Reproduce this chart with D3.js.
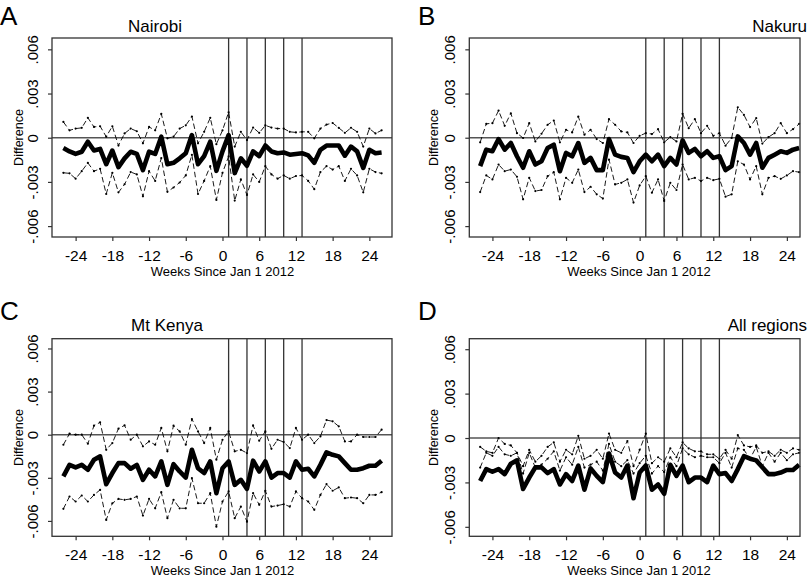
<!DOCTYPE html>
<html><head><meta charset="utf-8">
<script src="https://cdn.jsdelivr.net/npm/d3@7"></script>
<style>
body{margin:0;background:#fff}
svg{display:block}
text{font-family:"Liberation Sans",Arial,Helvetica,sans-serif;fill:#000}
</style>
</head><body>
<svg id="chart" width="810" height="578"></svg>
<script>
// ---- DATA (values in thousandths: -1.0 means -.001) ----
const weeks = [-26,-25,-24,-23,-22,-21,-20,-19,-18,-17,-16,-15,-14,-13,-12,-11,-10,-9,-8,-7,-6,-5,-4,-3,-2,-1,0,1,2,3,4,5,6,7,8,9,10,11,12,13,14,15,16,17,18,19,20,21,22,23,24,25,26];
const xTicks = [-24,-18,-12,-6,0,6,12,18,24];
const yTicks = [6,3,0,-3,-6];
const yTickLabels = [".006",".003","0","-.003","-.006"];
const eventWeeks = [1,4,7,10,13];
const panelLetters = ["A","B","C","D"];
const regionNames = ["Nairobi","Nakuru","Mt Kenya","All regions"];
const xTitle = "Weeks Since Jan 1 2012";
const yTitle = "Difference";

const nairobiEst = [-0.7,-0.93,-1.1,-0.95,-0.27,-0.87,-0.76,-1.8,-0.87,-2.0,-1.4,-0.95,-1.1,-2.2,-0.95,-1.1,0.07,-1.8,-1.7,-1.4,-1.05,0.18,-1.8,-1.25,-0.27,-2.25,-0.93,0.18,-2.4,-1.4,-1.9,-0.93,-1.25,-0.53,-0.93,-1.05,-1.0,-1.15,-1.1,-1.05,-1.2,-1.7,-0.82,-0.53,-0.53,-0.53,-1.22,-0.6,-0.93,-2.05,-0.82,-1.05,-1.0];
const nairobiUpper = [1.07,0.5,0.62,0.67,1.35,0.73,0.78,0.07,0.78,-0.53,0.29,0.62,0.44,-0.38,0.73,0.5,1.62,-0.04,0.07,0.62,0.84,1.44,-0.38,0.4,1.35,-0.44,0.5,1.73,-0.6,0.4,-0.16,0.69,0.33,0.84,0.69,0.62,0.62,0.4,0.36,0.4,0.4,-0.04,0.62,0.89,1.0,0.67,0.33,0.67,0.4,-0.6,0.62,0.29,0.5];
const nairobiLower = [-2.38,-2.42,-2.78,-2.27,-1.71,-2.27,-2.11,-3.82,-2.38,-3.71,-3.16,-2.33,-2.49,-3.98,-2.27,-2.93,-1.38,-3.67,-3.38,-3.04,-2.56,-1.16,-3.82,-2.93,-1.93,-4.22,-2.38,-1.27,-4.27,-2.82,-3.89,-2.49,-3.0,-1.93,-2.49,-2.78,-2.56,-2.78,-2.6,-2.56,-2.93,-3.49,-2.33,-1.93,-2.16,-1.93,-2.93,-2.11,-2.56,-3.71,-2.11,-2.33,-2.42];

const nakuruEst = [-1.93,-0.81,-0.92,-0.09,-0.81,-0.36,-1.26,-2.04,-0.92,-1.82,-1.6,-0.7,-0.47,-2.27,-1.03,-1.26,-0.36,-1.71,-1.37,-2.2,-2.2,-0.09,-1.15,-1.3,-1.37,-2.34,-1.6,-1.15,-1.6,-1.15,-1.93,-1.37,-1.82,-0.18,-1.03,-0.76,-1.26,-0.92,-1.37,-1.26,-2.2,-1.93,0.09,-0.36,-1.15,-0.36,-2.04,-1.37,-1.15,-0.92,-1.03,-0.81,-0.7];
const nakuruUpper = [-0.31,0.94,0.99,1.84,0.81,1.66,0.31,-0.02,0.99,-0.25,0.27,0.88,1.17,-0.31,0.54,0.36,1.44,0.2,0.54,-0.09,-0.36,1.26,0.88,0.43,0.36,-0.36,0.13,0.31,0.25,0.58,-0.31,0.04,-0.25,1.62,0.65,1.26,0.31,0.81,0.13,0.31,-0.54,-0.02,2.07,1.55,0.72,1.33,-0.4,0.04,0.31,0.99,0.31,0.58,0.94];
const nakuruLower = [-3.69,-2.56,-2.83,-1.82,-2.27,-2.16,-2.65,-4.18,-2.72,-3.62,-3.55,-2.61,-2.34,-4.18,-2.72,-3.06,-2.16,-3.69,-3.33,-3.84,-4.13,-1.48,-3.17,-3.06,-2.83,-4.4,-3.24,-2.61,-3.73,-2.83,-4.29,-3.06,-3.55,-1.82,-2.83,-2.72,-2.94,-2.72,-2.88,-2.79,-4.0,-3.84,-1.6,-1.82,-2.83,-1.93,-3.84,-2.72,-2.61,-2.79,-2.56,-2.27,-2.34];

const mtKenyaEst = [-2.9,-2.1,-2.28,-2.1,-2.44,-1.74,-1.51,-3.44,-2.67,-1.98,-1.98,-2.37,-2.1,-3.14,-2.44,-2.9,-1.86,-3.49,-2.05,-2.56,-2.98,-1.05,-2.33,-2.67,-1.86,-4.07,-2.33,-1.86,-3.49,-3.14,-3.77,-1.81,-2.56,-1.86,-2.98,-2.67,-2.67,-2.98,-1.86,-2.44,-2.37,-2.9,-2.1,-1.23,-1.4,-1.51,-1.98,-2.44,-2.44,-2.33,-2.16,-2.16,-1.81];
const mtKenyaUpper = [-0.70,0.07,0.0,0.0,-0.63,0.63,0.86,-1.05,-0.58,0.42,0.65,-0.35,0.0,-0.81,-0.47,-0.70,0.47,-1.16,0.63,0.23,-0.70,1.09,0.23,-0.58,0.47,-1.74,-0.35,0.23,-1.16,-1.05,-1.28,0.65,-0.42,0.23,-0.98,-0.35,-0.51,-0.93,0.47,-0.35,0.0,-0.58,-0.12,1.02,0.93,0.58,-0.47,-0.47,0.0,-0.16,-0.16,-0.16,0.35];
const mtKenyaLower = [-5.16,-4.3,-4.65,-4.23,-4.65,-4.19,-3.84,-5.93,-4.77,-4.47,-4.53,-4.47,-4.3,-5.63,-4.47,-5.12,-4.0,-5.81,-4.53,-5.12,-5.12,-3.02,-4.77,-4.77,-4.07,-6.4,-4.65,-3.95,-5.81,-5.0,-6.05,-4.07,-4.88,-3.9,-5.0,-4.93,-4.84,-5.0,-3.95,-4.42,-4.65,-5.23,-4.19,-3.44,-3.9,-3.67,-4.42,-4.37,-4.42,-4.77,-4.19,-4.19,-4.0];

const allEst = [-2.9,-2.1,-2.28,-2.1,-2.44,-1.74,-1.51,-3.44,-2.67,-1.98,-1.98,-2.37,-2.1,-3.14,-2.44,-2.9,-1.86,-3.49,-2.05,-2.56,-2.98,-1.05,-2.33,-2.67,-1.86,-4.07,-2.33,-1.86,-3.49,-3.14,-3.77,-1.81,-2.56,-1.86,-2.98,-2.67,-2.67,-2.98,-1.86,-2.44,-2.37,-2.9,-2.1,-1.23,-1.4,-1.51,-1.98,-2.44,-2.44,-2.33,-2.16,-2.16,-1.81];
const allUpper = [-0.6,-0.9,-1.0,0.0,-0.4,-0.5,-1.0,-1.9,-0.8,-1.6,-1.2,-0.6,-0.3,-1.6,-0.8,-1.1,0.15,-1.4,-1.2,-0.8,-1.4,0.3,-0.8,-1.0,-0.2,-1.9,-0.8,0.3,-1.7,-1.3,-1.6,-0.7,-1.3,-0.3,-0.7,-0.9,-0.9,-1.1,-1.1,-1.4,-0.8,-1.4,0.2,-0.5,-0.6,-0.5,-1.0,-0.9,-1.2,-0.8,-1.0,-0.7,-0.8];
const allLower = [-2.0,-1.0,-1.2,-0.6,-1.1,-1.2,-1.0,-2.4,-1.0,-2.0,-1.8,-1.4,-0.9,-2.2,-1.3,-1.8,-0.6,-2.0,-1.8,-1.6,-2.2,-0.4,-1.6,-1.9,-1.5,-2.4,-1.7,-1.2,-2.4,-1.9,-2.3,-1.3,-1.9,-0.7,-1.1,-1.3,-1.2,-1.3,-1.3,-1.7,-1.0,-2.0,-0.7,-0.8,-1.4,-0.6,-1.9,-1.0,-1.6,-1.0,-1.5,-1.1,-1.0];

const panelSeries = [
  [nairobiEst, nairobiUpper, nairobiLower],
  [nakuruEst, nakuruUpper, nakuruLower],
  [mtKenyaEst, mtKenyaUpper, mtKenyaLower],
  [allEst, allUpper, allLower]
];

// ---- LAYOUT ----
const layouts = [
  {bx0:52,bx1:392,by0:38,by1:237,xd:[-27.86,27.7],yd:[-6.74,6.77],
   letter:[0,25],title:[155,32,"middle"],yLabX:23,yTickX:38,xTickY:261,xTitle:[222.5,276]},
  {bx0:469.3,bx1:800,by0:38,by1:237,xd:[-27.77,26.14],yd:[-6.74,6.77],
   letter:[418,25],title:[807,32,"end"],yLabX:438,yTickX:455,xTickY:261,xTitle:[639,276]},
  {bx0:52,bx1:392,by0:338.7,by1:536.3,xd:[-27.86,27.7],yd:[-7.07,6.68],
   letter:[0,320],title:[167,331,"middle"],yLabX:23,yTickX:38,xTickY:560,xTitle:[222.5,575]},
  {bx0:469.3,bx1:800,by0:338.7,by1:536.3,xd:[-27.77,26.14],yd:[-6.64,6.71],
   letter:[418,320],title:[807,331,"end"],yLabX:438,yTickX:455,xTickY:560,xTitle:[639,575]}
];

const svg = d3.select("#chart");

layouts.forEach((L, i) => {
  const g = svg.append("g");
  const x = d3.scaleLinear().domain(L.xd).range([L.bx0, L.bx1]);
  const y = d3.scaleLinear().domain(L.yd).range([L.by1, L.by0]);
  const [est, up, lo] = panelSeries[i];

  const xAxis = d3.axisBottom(x).tickValues(xTicks).tickSize(4).tickFormat(d => d < 0 ? "-" + Math.abs(d) : String(d));
  const xa = g.append("g").attr("transform", `translate(0,${L.by1})`).call(xAxis);
  xa.select(".domain").remove();
  xa.selectAll(".tick line").attr("stroke", "#333").attr("stroke-width", 1.2);
  xa.selectAll(".tick text").attr("dy", null)
    .attr("y", L.xTickY - L.by1)
    .style("font-size", "15.5px").attr("fill", "#000");

  const yAxis = d3.axisLeft(y).tickValues(yTicks).tickSize(4).tickFormat((d, k) => yTickLabels[k]);
  const ya = g.append("g").attr("transform", `translate(${L.bx0},0)`).call(yAxis);
  ya.select(".domain").remove();
  ya.selectAll(".tick line").attr("stroke", "#333").attr("stroke-width", 1.2);
  ya.selectAll(".tick text")
    .attr("x", null).attr("dy", null).attr("y", null)
    .attr("text-anchor", "middle")
    .attr("transform", `translate(${L.yTickX - L.bx0},0) rotate(-90)`)
    .style("font-size", "15px").attr("fill", "#000");

  g.append("line").attr("x1", L.bx0).attr("x2", L.bx1).attr("y1", y(0)).attr("y2", y(0))
    .attr("stroke", "#555").attr("stroke-width", 1.4);

  g.selectAll(".ev").data(eventWeeks).enter().append("line")
    .attr("x1", d => x(d)).attr("x2", d => x(d)).attr("y1", L.by0).attr("y2", L.by1)
    .attr("stroke", "#333").attr("stroke-width", 1.3);

  const line = d3.line().x((d, k) => x(weeks[k])).y(d => y(d));

  [up, lo].forEach(s => {
    g.append("path").datum(s).attr("d", line).attr("fill", "none")
      .attr("stroke", "#000").attr("stroke-width", 0.9).attr("stroke-dasharray", "5.5,3");
    g.selectAll(null).data(s).enter().append("circle")
      .attr("cx", (d, k) => x(weeks[k])).attr("cy", d => y(d)).attr("r", 1.1).attr("fill", "#000");
  });

  g.append("path").datum(est).attr("d", line).attr("fill", "none")
    .attr("stroke", "#000").attr("stroke-width", 4.6).attr("stroke-linejoin", "round");

  g.append("rect").attr("x", L.bx0).attr("y", L.by0).attr("width", L.bx1 - L.bx0).attr("height", L.by1 - L.by0)
    .attr("fill", "none").attr("stroke", "#333").attr("stroke-width", 1.3);

  g.append("text").attr("x", L.letter[0]).attr("y", L.letter[1]).style("font-size", "26px").text(panelLetters[i]);
  g.append("text").attr("x", L.title[0]).attr("y", L.title[1]).attr("text-anchor", L.title[2])
    .style("font-size", "17px").text(regionNames[i]);
  g.append("text").attr("transform", `translate(${L.yLabX},${(L.by0 + L.by1) / 2}) rotate(-90)`)
    .attr("text-anchor", "middle").style("font-size", "12.5px").text(yTitle);
  g.append("text").attr("x", L.xTitle[0]).attr("y", L.xTitle[1]).attr("text-anchor", "middle")
    .style("font-size", "13px").text(xTitle);
});
</script>
</body></html>
